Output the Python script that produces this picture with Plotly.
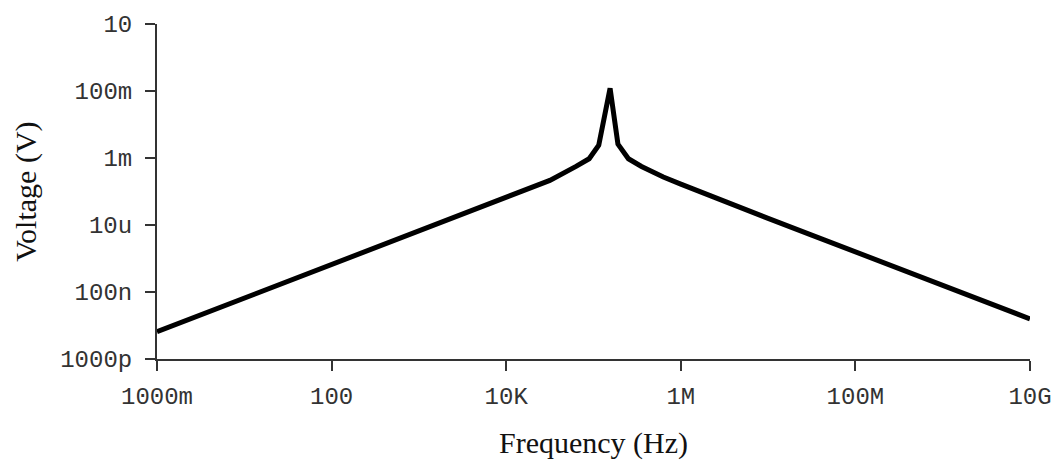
import plotly.graph_objects as go

# Frequency (Hz) and voltage (V)
freq = [1, 3.16, 10, 31.6, 100, 316, 1000, 3162, 1e4, 31623, 63096, 89125,
        114815, 154882, 190546, 251189, 354813, 630957, 1e6, 3.16e6, 1e7,
        3.16e7, 1e8, 3.16e8, 1e9, 3.16e9, 1e10]
volt = [6.5e-9, 2.05e-8, 6.5e-8, 2.05e-7, 6.5e-7, 2.05e-6, 6.5e-6, 2.05e-5,
        6.5e-5, 2.14e-4, 5.6e-4, 9.5e-4, 2.4e-3, 0.12, 2.6e-3, 9.5e-4, 5.6e-4,
        2.7e-4, 1.66e-4, 5.0e-5, 1.58e-5, 5.0e-6, 1.58e-6, 5.0e-7, 1.58e-7,
        5.0e-8, 1.58e-8]

x_tickvals = [1, 100, 1e4, 1e6, 1e8, 1e10]
x_ticktext = ["1000m", "100", "10K", "1M", "100M", "10G"]
y_tickvals = [10, 0.1, 1e-3, 1e-5, 1e-7, 1e-9]
y_ticktext = ["10", "100m", "1m", "10u", "100n", "1000p"]

tick_font = dict(family="Liberation Mono", size=24, color="#333333")
title_font = dict(family="Liberation Serif", size=30, color="#111111")

fig = go.Figure()
fig.add_trace(go.Scatter(x=freq, y=volt, mode="lines",
                         line=dict(color="black", width=5),
                         showlegend=False, hoverinfo="skip"))

fig.update_layout(
    width=1064, height=461,
    margin=dict(l=157, r=28, t=20, b=102),
    paper_bgcolor="white", plot_bgcolor="white",
    xaxis=dict(type="log", range=[0, 10], tickvals=x_tickvals, ticktext=x_ticktext,
               showgrid=False, zeroline=False, showline=True, linecolor="#333333",
               linewidth=2, ticks="outside", ticklen=10, tickwidth=2,
               tickcolor="#333333", tickfont=tick_font, ticklabelstandoff=4),
    yaxis=dict(type="log", range=[-9, 1], tickvals=y_tickvals, ticktext=y_ticktext,
               showgrid=False, zeroline=False, showline=True, linecolor="#333333",
               linewidth=2, ticks="outside", ticklen=10, tickwidth=2,
               tickcolor="#333333", tickfont=tick_font, ticklabelstandoff=8),
    annotations=[
        dict(text="Frequency (Hz)", xref="paper", yref="paper", x=0.5, y=-0.252,
             xanchor="center", yanchor="middle", showarrow=False, font=title_font),
        dict(text="Voltage (V)", xref="paper", yref="paper", x=-0.151, y=0.5,
             xanchor="center", yanchor="middle", showarrow=False, textangle=-90,
             font=title_font),
    ],
)

fig.write_html("out.html", config={"displayModeBar": False},
               post_script="document.body.style.margin='0';document.body.style.overflow='hidden';")
